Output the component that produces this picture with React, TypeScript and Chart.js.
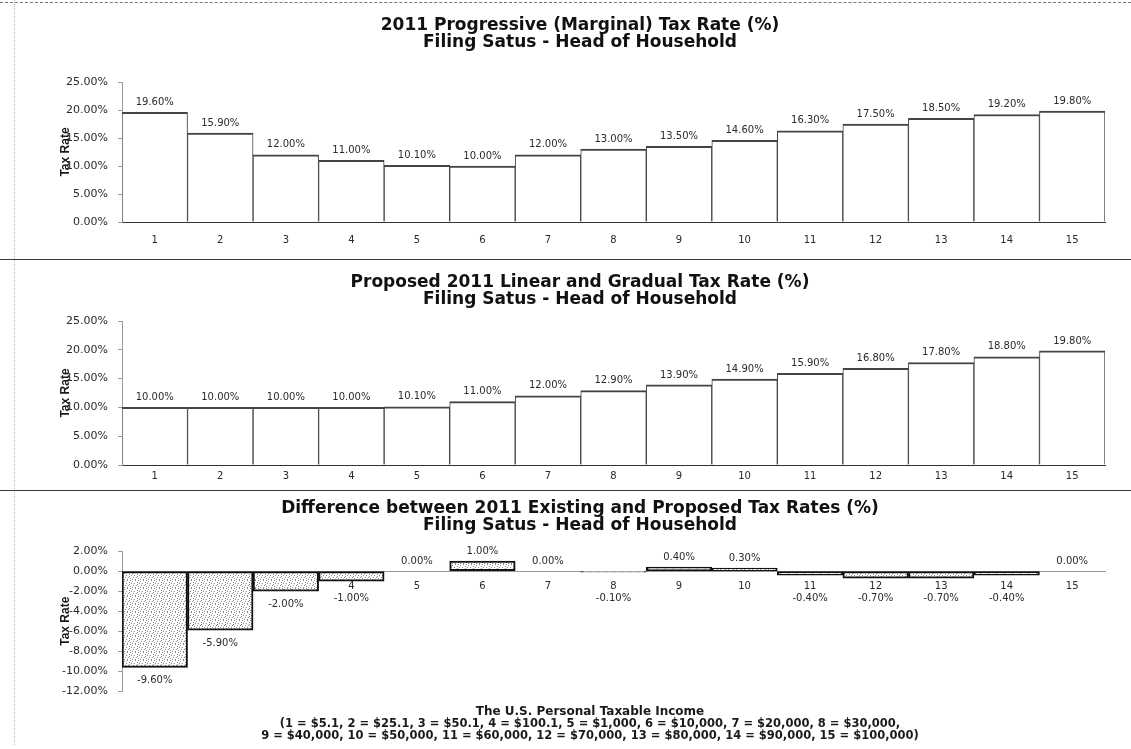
import React, { useEffect, useRef } from "react";
import { Chart, registerables } from "chart.js";

Chart.register(...registerables);

// Income brackets 1..15 (see legend text under the last panel)
const brackets = ["1", "2", "3", "4", "5", "6", "7", "8", "9", "10", "11", "12", "13", "14", "15"];

// 2011 progressive (marginal) rates, head of household, in percent
const existingRates = [19.6, 15.9, 12.0, 11.0, 10.1, 10.0, 12.0, 13.0, 13.5, 14.6, 16.3, 17.5, 18.5, 19.2, 19.8];

// Proposed linear and gradual rates, in percent
const proposedRates = [10.0, 10.0, 10.0, 10.0, 10.1, 11.0, 12.0, 12.9, 13.9, 14.9, 15.9, 16.8, 17.8, 18.8, 19.8];

// Proposed minus existing, in percent
const rateDifferences = [-9.6, -5.9, -2.0, -1.0, 0.0, 1.0, 0.0, -0.1, 0.4, 0.3, -0.4, -0.7, -0.7, -0.4, 0.0];

const rateAxisRange = { min: 0, max: 25, step: 5 };
const differenceAxisRange = { min: -12, max: 2, step: 2 };

const titleExisting = ["2011 Progressive (Marginal) Tax Rate (%)", "Filing Satus - Head of Household"];
const titleProposed = ["Proposed 2011 Linear and Gradual Tax Rate (%)", "Filing Satus - Head of Household"];
const titleDifference = ["Difference between 2011 Existing and Proposed Tax Rates (%)", "Filing Satus - Head of Household"];

const incomeTitle = "The U.S. Personal Taxable Income";
const incomeLegend = [
  "(1 = $5.1, 2 = $25.1, 3 = $50.1, 4 = $100.1, 5 = $1,000, 6 = $10,000, 7 = $20,000, 8 = $30,000,",
  "9 = $40,000, 10 = $50,000, 11 = $60,000, 12 = $70,000, 13 = $80,000, 14 = $90,000, 15 = $100,000)",
];

const SANS = "'DejaVu Sans', 'Liberation Sans', sans-serif";
const TICK_FONT = { family: SANS, size: 11 };
const CAT_FONT = { family: SANS, size: 10 };
const TITLE_FONT = { family: SANS, size: 17, weight: "bold" as const, lineHeight: "17px" };
const AXIS_TITLE_FONT = {
  family: "'Liberation Sans Narrow', 'Liberation Sans', 'DejaVu Sans Condensed', sans-serif",
  size: 12,
  weight: "bold" as const,
};
const INK = "#2a2a2a";

// Left padding inside each canvas and the width of the value axis box;
// together they put the plot's left edge 112px into the canvas.
const PAD_LEFT = 45;
const Y_AXIS_WIDTH = 67;

const pct = (v: number) => v.toFixed(2) + "%";

// Draws the value of every bar next to it
const valueLabels = {
  id: "valueLabels",
  afterDatasetsDraw(chart: any, _args: any, opts: any) {
    const { ctx } = chart;
    const meta = chart.getDatasetMeta(0);
    const values = chart.data.datasets[0].data as number[];
    const zeroY = chart.scales.y.getPixelForValue(0);
    ctx.save();
    ctx.font = `${opts.size}px ${SANS}`;
    ctx.fillStyle = INK;
    ctx.textAlign = "center";
    ctx.textBaseline = "middle";
    meta.data.forEach((bar: any, i: number) => {
      const v = values[i];
      const y = v >= 0 ? bar.y - opts.above : Math.max(bar.y + opts.below, zeroY + opts.minBelow);
      ctx.fillText(pct(v), bar.x, y);
    });
    ctx.restore();
  },
};

// Light grey stipple used to fill the difference bars
function stipple(): CanvasPattern | string {
  const size = 8;
  const c = document.createElement("canvas");
  c.width = size;
  c.height = size;
  const g = c.getContext("2d");
  if (!g) return "#d8d8d8";
  g.fillStyle = "#ffffff";
  g.fillRect(0, 0, size, size);
  g.fillStyle = "#8a8a8a";
  const dots = [
    [0, 0], [5, 0], [2, 1], [7, 2], [4, 3], [1, 3],
    [6, 5], [3, 5], [0, 6], [5, 7], [2, 7], [7, 4],
  ];
  dots.forEach(([x, y]) => g.fillRect(x, y, 1, 1));
  return g.createPattern(c, "repeat") || "#d8d8d8";
}

function yAxis(range: { min: number; max: number; step: number }) {
  return {
    min: range.min,
    max: range.max,
    afterFit: (s: any) => {
      s.width = Y_AXIS_WIDTH;
    },
    ticks: {
      stepSize: range.step,
      padding: 10,
      color: INK,
      font: TICK_FONT,
      callback: (v: any) => pct(Number(v)),
    },
    grid: { drawOnChartArea: false, drawTicks: true, tickLength: 4, color: "#999" },
    border: { display: true, color: "#999", dash: [2, 2] },
    title: {
      display: true,
      text: "Tax Rate",
      color: "#1a1a1a",
      font: AXIS_TITLE_FONT,
      padding: { top: 3, bottom: 0 },
    },
  };
}

function baseOptions(title: string[], pad: { t: number; b: number; bottom: number }) {
  return {
    responsive: false,
    animation: false as const,
    layout: { padding: { left: PAD_LEFT, right: 5, top: 0, bottom: pad.bottom } },
    plugins: {
      legend: { display: false },
      tooltip: { enabled: false },
      title: {
        display: true,
        text: title,
        color: "#111",
        font: TITLE_FONT,
        padding: { top: pad.t, bottom: pad.b },
      },
      valueLabels: { size: 10, above: 10, below: 13, minBelow: 27 },
    },
  };
}

function rateConfig(values: number[], title: string[], pad: { t: number; b: number; tick: number; bottom: number }) {
  return {
    type: "bar" as const,
    data: {
      labels: brackets,
      datasets: [
        {
          data: values,
          backgroundColor: "#ffffff",
          borderColor: "#444",
          borderWidth: { top: 2, left: 1, right: 1, bottom: 0 },
          barPercentage: 1,
          categoryPercentage: 1,
        },
      ],
    },
    options: {
      ...baseOptions(title, pad),
      scales: {
        x: {
          grid: { display: false, drawTicks: false },
          border: { display: true, color: "#333", width: 1 },
          ticks: { padding: pad.tick, color: INK, font: CAT_FONT },
        },
        y: yAxis(rateAxisRange),
      },
    },
    plugins: [valueLabels],
  };
}

function differenceConfig() {
  return {
    type: "bar" as const,
    data: {
      labels: brackets,
      datasets: [
        {
          data: rateDifferences,
          backgroundColor: stipple(),
          borderColor: "#111",
          borderWidth: 2,
          borderSkipped: false,
          barPercentage: 1,
          categoryPercentage: 1,
        },
      ],
    },
    options: {
      ...baseOptions(titleDifference, { t: 8.5, b: 16.5, bottom: 8 }),
      scales: {
        x: {
          position: { y: 0 },
          grid: { display: false, drawTicks: false },
          border: { display: true, color: "#999", dash: [2, 2] },
          ticks: { padding: 9, color: INK, font: CAT_FONT },
        },
        y: yAxis(differenceAxisRange),
      },
    },
    plugins: [valueLabels],
  };
}

function BarPanel({ top, height, build }: { top: number; height: number; build: () => any }) {
  const ref = useRef<HTMLCanvasElement>(null);
  useEffect(() => {
    if (!ref.current) return;
    const chart = new Chart(ref.current, build());
    return () => chart.destroy();
  }, []);
  return (
    <canvas
      ref={ref}
      width={1100}
      height={height}
      style={{ position: "absolute", left: 10, top, width: 1100, height }}
    />
  );
}

export default function App() {
  const rule = (top: number) => (
    <div style={{ position: "absolute", left: 0, top, width: 1131, height: 1, background: "#3a3a3a" }} />
  );
  return (
    <div
      style={{
        position: "absolute",
        left: 0,
        top: 0,
        width: 1131,
        height: 749,
        background: "#ffffff",
        overflow: "hidden",
      }}
    >
      <div style={{ position: "absolute", left: 0, top: 2, width: 1131, borderTop: "1px dashed #777" }} />
      <div style={{ position: "absolute", left: 14, top: 0, height: 745, borderLeft: "1px dotted #bbb" }} />
      <BarPanel
        top={8}
        height={250}
        build={() => rateConfig(existingRates, titleExisting, { t: 9.5, b: 30.5, tick: 12, bottom: 0 })}
      />
      {rule(259)}
      <BarPanel
        top={262}
        height={227}
        build={() => rateConfig(proposedRates, titleProposed, { t: 12.5, b: 12.5, tick: 5, bottom: 2 })}
      />
      {rule(490)}
      <BarPanel top={492} height={216} build={differenceConfig} />
      <div
        style={{
          position: "absolute",
          left: 190,
          top: 705,
          width: 800,
          textAlign: "center",
          fontFamily: SANS,
          fontWeight: "bold",
          color: "#1a1a1a",
          lineHeight: "12px",
        }}
      >
        <div style={{ fontSize: 12, whiteSpace: "nowrap" }}>{incomeTitle}</div>
        {incomeLegend.map((line) => (
          <div key={line} style={{ fontSize: 11.5, whiteSpace: "nowrap" }}>
            {line}
          </div>
        ))}
      </div>
    </div>
  );
}
